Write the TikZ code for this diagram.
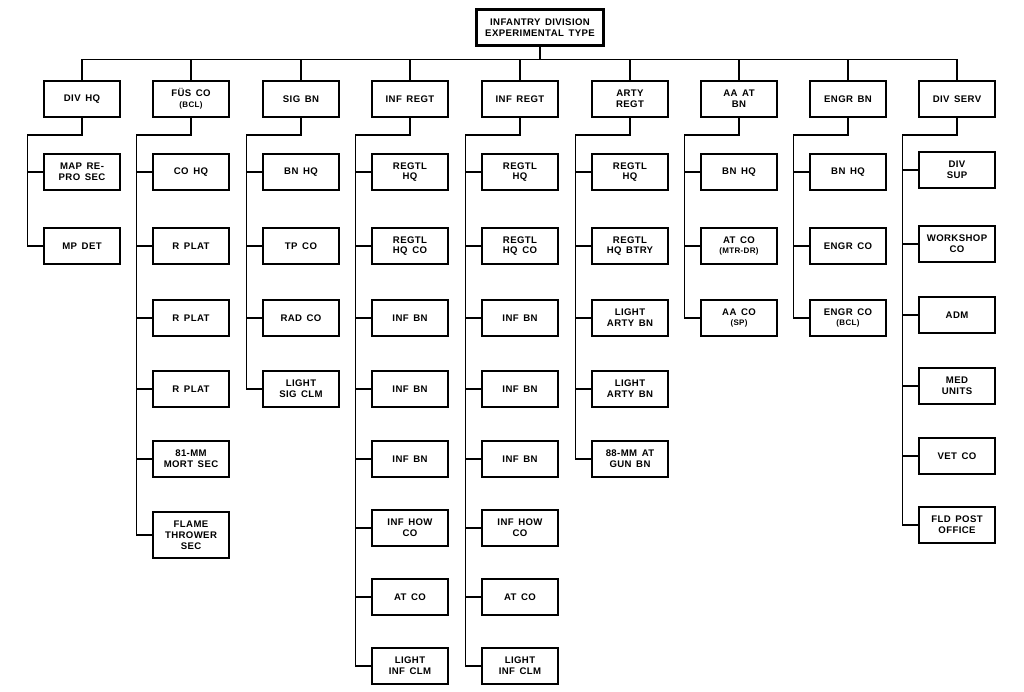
\documentclass[tikz,border=0pt]{standalone}
\usepackage{fontspec}
\setmainfont[LetterSpace=4,WordSpace=1.5]{Liberation Sans}
\newcommand{\subnote}[1]{{\fontsize{8}{9.5}\selectfont(#1)}}

\begin{document}
\begin{tikzpicture}[
        x=1pt, y=-1pt,
        unit/.style={draw, line width=1.5pt, minimum width=76pt, minimum height=36pt,
            inner xsep=2pt, inner ysep=5pt, align=center,
            font=\fontsize{9.6}{10.8}\selectfont\bfseries},
        tall unit/.style={unit, minimum height=46pt},
        head unit/.style={unit, line width=2.4pt, minimum width=127pt},
        link/.style={draw, line width=1.5pt, line cap=rect}
    ]
    \useasboundingbox (0,0) rectangle (1024,691);
    % division and its branches
    \node[head unit] (div) at (540,27.5) {INFANTRY DIVISION\\EXPERIMENTAL TYPE};
    \foreach \x/\name/\label in {
            82/dhq/DIV HQ,
            191/fus/{FÜS CO\\\subnote{BCL}},
            301/sig/SIG BN,
            410/inf/INF REGT,
            520/infb/INF REGT,
            630/arty/{ARTY\\REGT},
            739/aa/{AA AT\\BN},
            848/engr/ENGR BN,
            957/serv/DIV SERV}
        \node[unit] (\name) at (\x,99) {\label};
    % units under each branch
    \foreach \y/\i/\label in {172/1/{MAP RE-\\PRO SEC}, 246/2/MP DET}
        \node[unit] (dhq-\i) at (dhq.center |- 0,\y) {\label};
    \foreach \y/\i/\label in {
            172/1/CO HQ, 246/2/R PLAT, 318/3/R PLAT, 389/4/R PLAT, 459/5/{81-MM\\MORT SEC}}
        \node[unit] (fus-\i) at (fus.center |- 0,\y) {\label};
    \node[tall unit] (fus-6) at (fus.center |- 0,535) {FLAME\\THROWER\\SEC};
    \foreach \y/\i/\label in {172/1/BN HQ, 246/2/TP CO, 318/3/RAD CO, 389/4/{LIGHT\\SIG CLM}}
        \node[unit] (sig-\i) at (sig.center |- 0,\y) {\label};
    \foreach \col in {inf, infb}
        \foreach \y/\i/\label in {
                172/1/{REGTL\\HQ}, 246/2/{REGTL\\HQ CO}, 318/3/INF BN, 389/4/INF BN,
                459/5/INF BN, 528/6/{INF HOW\\CO}, 597/7/AT CO, 666/8/{LIGHT\\INF CLM}}
            \node[unit] (\col-\i) at (\col.center |- 0,\y) {\label};
    \foreach \y/\i/\label in {
            172/1/{REGTL\\HQ}, 246/2/{REGTL\\HQ BTRY}, 318/3/{LIGHT\\ARTY BN},
            389/4/{LIGHT\\ARTY BN}, 459/5/{88-MM AT\\GUN BN}}
        \node[unit] (arty-\i) at (arty.center |- 0,\y) {\label};
    \foreach \y/\i/\label in {172/1/BN HQ, 246/2/{AT CO\\\subnote{MTR-DR}}, 318/3/{AA CO\\\subnote{SP}}}
        \node[unit] (aa-\i) at (aa.center |- 0,\y) {\label};
    \foreach \y/\i/\label in {172/1/BN HQ, 246/2/ENGR CO, 318/3/{ENGR CO\\\subnote{BCL}}}
        \node[unit] (engr-\i) at (engr.center |- 0,\y) {\label};
    \foreach \y/\i/\label in {
            170/1/{DIV\\SUP}, 244/2/{WORKSHOP\\CO}, 315/3/ADM, 386/4/{MED\\UNITS},
            456/5/VET CO, 525/6/{FLD POST\\OFFICE}}
        \node[unit] (serv-\i) at (serv.center |- 0,\y) {\label};
    % top connectors
    \draw[link] (div.south) -- ++(0,13) coordinate (hub);
    \draw[link] (dhq.north |- hub) -- (serv.north |- hub);
    \foreach \name in {dhq, fus, sig, inf, infb, arty, aa, engr, serv}
        \draw[link] (\name.north) -- (\name.north |- hub);
    % branch connectors
    \foreach \name/\n in {dhq/2, fus/6, sig/4, inf/8, infb/8, arty/5, aa/3, engr/3, serv/6} {
        \coordinate (\name-bus) at ([xshift=-16pt]\name.west);
        \draw[link] (\name.south) -- ++(0,17) -| (\name-\n.west -| \name-bus) -- (\name-\n.west);
        \foreach \i in {1,...,\n}
            \draw[link] (\name-\i.west) -- (\name-\i.west -| \name-bus);
    }
\end{tikzpicture}
\end{document}
